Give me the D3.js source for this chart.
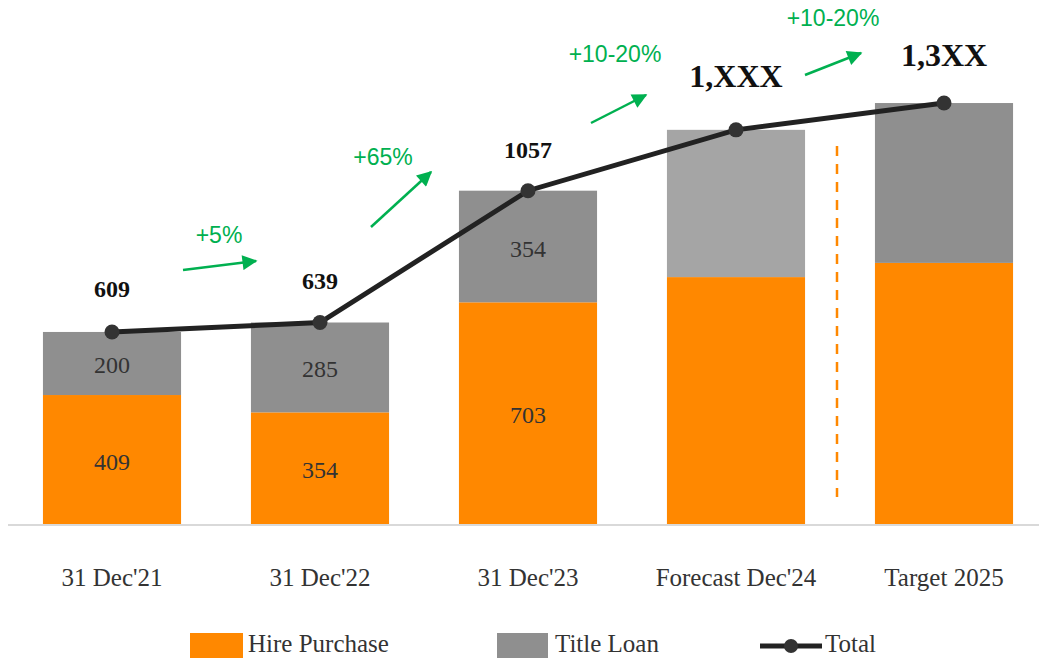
<!DOCTYPE html>
<html>
<head>
<meta charset="utf-8">
<script src="https://cdn.jsdelivr.net/npm/d3@7"></script>
<style>
  body { margin: 0; background: #fff; }
  svg { display: block; }
</style>
</head>
<body>
<svg id="chart" width="1039" height="658"></svg>
<script>
// Data
var categories = ["31 Dec'21", "31 Dec'22", "31 Dec'23", "Forecast Dec'24", "Target 2025"];
var hirePurchase = [409, 354, 703, 783, 828];
var titleLoan = [200, 285, 354, 467, 507];
var hireLabels = ["409", "354", "703", null, null];
var titleLabels = ["200", "285", "354", null, null];
var totalLabels = ["609", "639", "1057", "1,XXX", "1,3XX"];
var growthLabels = ["+5%", "+65%", "+10-20%", "+10-20%"];
var legendNames = ["Hire Purchase", "Title Loan", "Total"];

var totals = hirePurchase.map(function(d, i) { return d + titleLoan[i]; });

var svg = d3.select("#chart");

var orange = "#ff8800";
var grey = "#8f8f8f";
var greyLight = "#a5a5a5";
var green = "#00b050";
var serif = "Liberation Serif, Times New Roman, serif";
var baseY = 524;

var x = d3.scaleBand()
    .domain(categories)
    .range([8, 1048])
    .paddingInner(0.336)
    .paddingOuter(0.168);

var y = d3.scaleLinear()
    .domain([0, 1500])
    .range([baseY, 51]);

var rows = categories.map(function(c, i) {
    return { cat: c, hp: hirePurchase[i], tl: titleLoan[i], i: i };
});

// bars
var g = svg.append("g");

g.selectAll(".hp")
    .data(rows)
    .enter().append("rect")
    .attr("class", "hp")
    .attr("x", function(d) { return x(d.cat); })
    .attr("width", x.bandwidth())
    .attr("y", function(d) { return y(d.hp); })
    .attr("height", function(d) { return y(0) - y(d.hp); })
    .attr("fill", orange);

g.selectAll(".tl")
    .data(rows)
    .enter().append("rect")
    .attr("class", "tl")
    .attr("x", function(d) { return x(d.cat); })
    .attr("width", x.bandwidth())
    .attr("y", function(d) { return y(d.hp + d.tl); })
    .attr("height", function(d) { return y(d.hp) - y(d.hp + d.tl); })
    .attr("fill", function(d) { return d.i === 3 ? greyLight : grey; });

// axis line
svg.append("line")
    .attr("x1", 8).attr("x2", 1039)
    .attr("y1", baseY + 1).attr("y2", baseY + 1)
    .attr("stroke", "#d9d9d9")
    .attr("stroke-width", 2);

// segment labels
g.selectAll(".hpLabel")
    .data(rows.filter(function(d) { return hireLabels[d.i]; }))
    .enter().append("text")
    .attr("x", function(d) { return x(d.cat) + x.bandwidth() / 2; })
    .attr("y", function(d) { return (y(0) + y(d.hp)) / 2 + 10; })
    .attr("text-anchor", "middle")
    .attr("font-family", serif)
    .attr("font-size", 24)
    .attr("fill", "#333")
    .text(function(d) { return hireLabels[d.i]; });

g.selectAll(".tlLabel")
    .data(rows.filter(function(d) { return titleLabels[d.i]; }))
    .enter().append("text")
    .attr("x", function(d) { return x(d.cat) + x.bandwidth() / 2; })
    .attr("y", function(d) { return (y(d.hp) + y(d.hp + d.tl)) / 2 + 10; })
    .attr("text-anchor", "middle")
    .attr("font-family", serif)
    .attr("font-size", 24)
    .attr("fill", "#333")
    .text(function(d) { return titleLabels[d.i]; });

// dashed divider between forecast and target
var divX = (x(categories[3]) + x.bandwidth() + x(categories[4])) / 2 - 3;
svg.append("line")
    .attr("x1", divX).attr("x2", divX)
    .attr("y1", 146).attr("y2", 497)
    .attr("stroke", orange)
    .attr("stroke-width", 2.5)
    .attr("stroke-dasharray", "10,8");

// total line
var line = d3.line()
    .x(function(d, i) { return x(categories[i]) + x.bandwidth() / 2; })
    .y(function(d) { return y(d); });

svg.append("path")
    .datum(totals)
    .attr("d", line)
    .attr("fill", "none")
    .attr("stroke", "#222")
    .attr("stroke-width", 5);

svg.selectAll(".dot")
    .data(totals)
    .enter().append("circle")
    .attr("cx", function(d, i) { return x(categories[i]) + x.bandwidth() / 2; })
    .attr("cy", function(d) { return y(d); })
    .attr("r", 7.5)
    .attr("fill", "#333");

// total labels
var labelOffsets = [35, 34, 33, 43, 37];
var labelSizes = [24, 24, 24, 32, 32];
svg.selectAll(".totLabel")
    .data(totals)
    .enter().append("text")
    .attr("x", function(d, i) { return x(categories[i]) + x.bandwidth() / 2; })
    .attr("y", function(d, i) { return y(d) - labelOffsets[i]; })
    .attr("text-anchor", "middle")
    .attr("font-family", serif)
    .attr("font-weight", "bold")
    .attr("font-size", function(d, i) { return labelSizes[i]; })
    .attr("fill", "#111")
    .text(function(d, i) { return totalLabels[i]; });

// growth arrows (offsets from the gap between bars)
var defs = svg.append("defs");
defs.append("marker")
    .attr("id", "arrowHead")
    .attr("viewBox", "0 0 10 10")
    .attr("refX", 9).attr("refY", 5)
    .attr("markerWidth", 7).attr("markerHeight", 6)
    .attr("markerUnits", "strokeWidth")
    .attr("orient", "auto")
    .append("path")
    .attr("d", "M0,0 L10,5 L0,10 z")
    .attr("fill", green);

var arrowGeom = [
    { dx0: -33, dx1: 40, y0: 270, y1: 261, tx: 3, ty: 243 },
    { dx0: -53, dx1: 7, y0: 227, y1: 172, tx: -41, ty: 165 },
    { dx0: -41, dx1: 14, y0: 123, y1: 95, tx: -17, ty: 62 },
    { dx0: -35, dx1: 21, y0: 75, y1: 53, tx: -7, ty: 26 }
];

growthLabels.forEach(function(lbl, i) {
    var gap = (x(categories[i]) + x.bandwidth() + x(categories[i + 1])) / 2;
    var a = arrowGeom[i];
    svg.append("line")
        .attr("x1", gap + a.dx0).attr("y1", a.y0)
        .attr("x2", gap + a.dx1).attr("y2", a.y1)
        .attr("stroke", green)
        .attr("stroke-width", 2.5)
        .attr("marker-end", "url(#arrowHead)");
    svg.append("text")
        .attr("x", gap + a.tx).attr("y", a.ty)
        .attr("text-anchor", "middle")
        .attr("font-family", "Liberation Sans, Arial, sans-serif")
        .attr("font-size", 23)
        .attr("fill", green)
        .text(lbl);
});

// category labels
svg.selectAll(".tick")
    .data(categories)
    .enter().append("text")
    .attr("x", function(d) { return x(d) + x.bandwidth() / 2; })
    .attr("y", 586)
    .attr("text-anchor", "middle")
    .attr("font-family", serif)
    .attr("font-size", 25)
    .attr("fill", "#333")
    .text(function(d) { return d; });

// legend
var legend = svg.append("g");
var lx = [190, 497, 760];
legend.append("rect").attr("x", lx[0]).attr("y", 633).attr("width", 53).attr("height", 25).attr("fill", orange);
legend.append("rect").attr("x", lx[1]).attr("y", 633).attr("width", 51).attr("height", 25).attr("fill", grey);
legend.append("line").attr("x1", lx[2]).attr("x2", lx[2] + 62).attr("y1", 646).attr("y2", 646)
    .attr("stroke", "#222").attr("stroke-width", 5);
legend.append("circle").attr("cx", lx[2] + 31).attr("cy", 646).attr("r", 7).attr("fill", "#333");
var legendTextX = [248, 555, 825];
legendNames.forEach(function(n, i) {
    legend.append("text")
        .attr("x", legendTextX[i]).attr("y", 652)
        .attr("font-family", serif)
        .attr("font-size", 25)
        .attr("fill", "#333")
        .text(n);
});
</script>
</body>
</html>
